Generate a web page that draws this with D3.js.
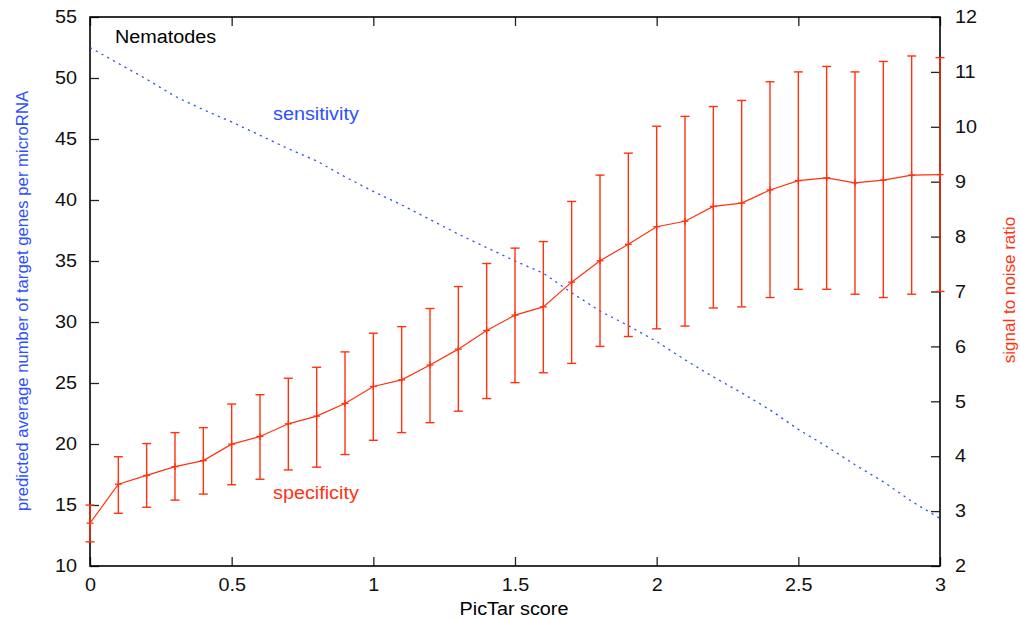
<!DOCTYPE html>
<html>
<head>
<meta charset="utf-8">
<script src="https://cdn.jsdelivr.net/npm/d3@7"></script>
<style>
  html, body { margin: 0; padding: 0; background: #fff; }
  svg { display: block; font-family: "Liberation Sans", Arial, Helvetica, sans-serif; }
</style>
</head>
<body>
<svg id="chart" width="1020" height="619"></svg>
<script>
// ---- data ----
const scores = [0, 0.1, 0.2, 0.3, 0.4, 0.5, 0.6, 0.7, 0.8, 0.9, 1.0, 1.1, 1.2, 1.3, 1.4, 1.5,
                1.6, 1.7, 1.8, 1.9, 2.0, 2.1, 2.2, 2.3, 2.4, 2.5, 2.6, 2.7, 2.8, 2.9, 3.0];
// sensitivity: predicted average number of target genes per microRNA (left axis)
const sensitivity = [52.5, 51.2, 49.9, 48.5, 47.4, 46.4, 45.3, 44.2, 43.2, 41.9, 40.7, 39.6, 38.4, 37.2, 36.1, 35.0,
                     34.0, 32.4, 30.9, 29.7, 28.4, 26.9, 25.5, 24.2, 22.8, 21.2, 19.8, 18.3, 16.9, 15.3, 13.9];
// specificity: signal to noise ratio (right axis) with error bars
const snr      = [2.78, 3.49, 3.65, 3.81, 3.92, 4.22, 4.36, 4.59, 4.73, 4.96, 5.27, 5.39, 5.66, 5.95, 6.29, 6.57,
                  6.72, 7.17, 7.56, 7.86, 8.18, 8.28, 8.55, 8.61, 8.85, 9.02, 9.07, 8.98, 9.03, 9.12, 9.13];
const snrHigh  = [3.11, 3.99, 4.23, 4.43, 4.52, 4.95, 5.12, 5.42, 5.62, 5.90, 6.24, 6.36, 6.69, 7.09, 7.51, 7.79,
                  7.91, 8.64, 9.12, 9.52, 10.01, 10.19, 10.37, 10.48, 10.82, 11.0, 11.10, 11.0, 11.19, 11.29, 11.26];
const snrLow   = [2.44, 2.96, 3.07, 3.20, 3.31, 3.48, 3.58, 3.75, 3.80, 4.03, 4.29, 4.43, 4.61, 4.82, 5.05, 5.34,
                  5.52, 5.69, 6.00, 6.18, 6.32, 6.37, 6.70, 6.72, 6.89, 7.04, 7.04, 6.95, 6.89, 6.95, 7.00];
const xTicks  = [0, 0.5, 1, 1.5, 2, 2.5, 3];
const yTicks  = [10, 15, 20, 25, 30, 35, 40, 45, 50, 55];
const y2Ticks = [2, 3, 4, 5, 6, 7, 8, 9, 10, 11, 12];

// ---- layout ----
const L = 90, R = 940, T = 17, B = 566;
const BLUE = "#2f4fff", RED = "#ff3210";
const STRETCH = 1.1;
const svg = d3.select("#chart");

const x  = d3.scaleLinear().domain([0, 3]).range([L, R]);
const y  = d3.scaleLinear().domain([10, 55]).range([B, T]);
const y2 = d3.scaleLinear().domain([2, 12]).range([B, T]);

// widen horizontal text slightly (reference glyphs are wider than tall)
function widen(sel) {
  sel.each(function () {
    const w = this.getComputedTextLength();
    if (w > 0) d3.select(this).attr("textLength", w * STRETCH).attr("lengthAdjust", "spacingAndGlyphs");
  });
}

function styleAxis(g) {
  g.select(".domain").remove();
  g.selectAll(".tick line").attr("stroke", "#222").attr("stroke-width", 1.3);
  g.selectAll(".tick text").attr("fill", "#111").attr("font-size", 18)
    .attr("font-family", "Liberation Sans, Arial, sans-serif").call(widen);
}
svg.append("g").attr("transform", `translate(0,${B})`)
  .call(d3.axisBottom(x).tickValues(xTicks).tickFormat(d3.format("")).tickSize(-9).tickPadding(12))
  .call(styleAxis);
svg.append("g").attr("transform", `translate(0,${T})`)
  .call(d3.axisTop(x).tickValues(xTicks).tickFormat("").tickSize(-9))
  .call(styleAxis);
svg.append("g").attr("transform", `translate(${L},0)`)
  .call(d3.axisLeft(y).tickValues(yTicks).tickSize(-9).tickPadding(13))
  .call(styleAxis);
svg.append("g").attr("transform", `translate(${R},0)`)
  .call(d3.axisRight(y2).tickValues(y2Ticks).tickSize(-9).tickPadding(15))
  .call(styleAxis);

// frame
svg.append("rect").attr("x", L).attr("y", T).attr("width", R - L).attr("height", B - T)
  .attr("fill", "none").attr("stroke", "#000").attr("stroke-width", 1.6);

// sensitivity line (dotted blue)
const pts = scores.map((s, i) => ({ s, sens: sensitivity[i], v: snr[i], hi: snrHigh[i], lo: snrLow[i] }));
svg.append("path").datum(pts)
  .attr("d", d3.line().x(d => x(d.s)).y(d => y(d.sens)))
  .attr("fill", "none").attr("stroke", BLUE).attr("stroke-width", 1.3)
  .attr("stroke-dasharray", "2.2,4.4");

// specificity error bars
const eb = svg.append("g").attr("stroke", RED).attr("stroke-width", 1.4).attr("fill", "none");
eb.selectAll("line.v").data(pts).join("line").attr("class", "v")
  .attr("x1", d => x(d.s)).attr("x2", d => x(d.s))
  .attr("y1", d => y2(d.lo)).attr("y2", d => y2(d.hi));
eb.selectAll("line.ch").data(pts).join("line").attr("class", "ch")
  .attr("x1", d => x(d.s) - 4.5).attr("x2", d => x(d.s) + 4.5)
  .attr("y1", d => y2(d.hi)).attr("y2", d => y2(d.hi));
eb.selectAll("line.cl").data(pts).join("line").attr("class", "cl")
  .attr("x1", d => x(d.s) - 4.5).attr("x2", d => x(d.s) + 4.5)
  .attr("y1", d => y2(d.lo)).attr("y2", d => y2(d.lo));

// specificity line + markers
svg.append("path").datum(pts)
  .attr("d", d3.line().x(d => x(d.s)).y(d => y2(d.v)))
  .attr("fill", "none").attr("stroke", RED).attr("stroke-width", 1.2);
const mk = svg.append("g").attr("stroke", RED).attr("stroke-width", 1.3);
mk.selectAll("line.mh").data(pts).join("line").attr("class", "mh")
  .attr("x1", d => x(d.s) - 3.5).attr("x2", d => x(d.s) + 3.5)
  .attr("y1", d => y2(d.v)).attr("y2", d => y2(d.v));
mk.selectAll("line.mv").data(pts).join("line").attr("class", "mv")
  .attr("x1", d => x(d.s)).attr("x2", d => x(d.s))
  .attr("y1", d => y2(d.v) - 3.5).attr("y2", d => y2(d.v) + 3.5);

// labels
svg.append("text").attr("x", 115).attr("y", 43).attr("font-size", 18).attr("fill", "#000").text("Nematodes").call(widen);
svg.append("text").attr("x", 273).attr("y", 120).attr("font-size", 18).attr("fill", BLUE).text("sensitivity").call(widen);
svg.append("text").attr("x", 273).attr("y", 499).attr("font-size", 18).attr("fill", RED).text("specificity").call(widen);
svg.append("text").attr("x", 514).attr("y", 615).attr("font-size", 18).attr("text-anchor", "middle")
  .attr("fill", "#000").text("PicTar score").call(widen);
svg.append("text").attr("transform", "translate(28,301) rotate(-90)").attr("text-anchor", "middle")
  .attr("font-size", 16.7).attr("fill", BLUE).text("predicted average number of target genes per microRNA");
svg.append("text").attr("transform", "translate(1015,290) rotate(-90)").attr("text-anchor", "middle")
  .attr("font-size", 17).attr("fill", RED).text("signal to noise ratio");
</script>
</body>
</html>
